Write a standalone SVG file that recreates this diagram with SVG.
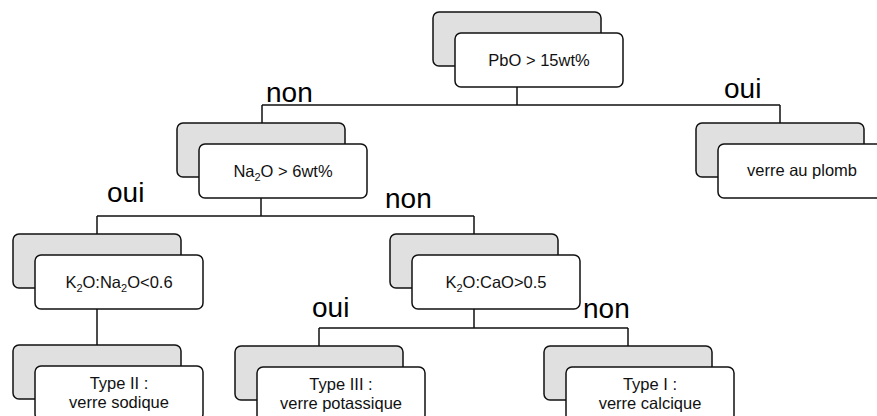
<svg xmlns="http://www.w3.org/2000/svg" width="877" height="416" viewBox="0 0 877 416">
<style>
.back{fill:#e0e0e0;stroke:#111;stroke-width:1.5}
.front{fill:#fff;stroke:#111;stroke-width:1.5}
.t{font-family:"Liberation Sans",Arial,sans-serif;font-size:16.5px;fill:#111;text-anchor:middle}
.s{font-size:11px}
.lbl{font-family:"Liberation Sans",Arial,sans-serif;font-size:28px;fill:#000}
.c{fill:none;stroke:#111;stroke-width:1.5}
</style>
<rect width="877" height="416" fill="#fff"/>
<g id="connectors">
<path class="c" d="M517 87V105M262 105H780M262 105V123M780 105V123"/>
<path class="c" d="M261 198V216M97 216H474M97 216V234M474 216V234"/>
<path class="c" d="M97 309V345"/>
<path class="c" d="M474 309V328M319 328H628M319 328V346M628 328V346"/>
</g>
<g id="n_pbo">
<rect class="back" x="433" y="12" width="168" height="54" rx="6"/>
<rect class="front" x="455" y="33" width="168" height="54" rx="6"/>
<text class="t" x="539" y="66">PbO &gt; 15wt%</text>
</g>
<g id="n_plomb">
<rect class="back" x="696" y="123" width="168" height="54" rx="6"/>
<rect class="front" x="718" y="144" width="168" height="54" rx="6"/>
<text class="t" x="802" y="176">verre au plomb</text>
</g>
<g id="n_na2o">
<rect class="back" x="177" y="123" width="168" height="54" rx="6"/>
<rect class="front" x="199" y="144" width="168" height="54" rx="6"/>
<text class="t" x="283" y="177">Na<tspan class="s" dy="4">2</tspan><tspan dy="-4">O &gt; 6wt%</tspan></text>
</g>
<g id="n_k2ona2o">
<rect class="back" x="13" y="234" width="168" height="54" rx="6"/>
<rect class="front" x="35" y="255" width="168" height="54" rx="6"/>
<text class="t" x="119" y="288">K<tspan class="s" dy="4">2</tspan><tspan dy="-4">O:Na</tspan><tspan class="s" dy="4">2</tspan><tspan dy="-4">O&lt;0.6</tspan></text>
</g>
<g id="n_k2ocao">
<rect class="back" x="390" y="234" width="168" height="54" rx="6"/>
<rect class="front" x="412" y="255" width="168" height="54" rx="6"/>
<text class="t" x="496" y="288">K<tspan class="s" dy="4">2</tspan><tspan dy="-4">O:CaO&gt;0.5</tspan></text>
</g>
<g id="n_type2">
<rect class="back" x="13" y="345" width="168" height="54" rx="6"/>
<rect class="front" x="35" y="366" width="168" height="54" rx="6"/>
<text class="t" x="119" y="389">Type II :</text>
<text class="t" x="119" y="408">verre sodique</text>
</g>
<g id="n_type3">
<rect class="back" x="235" y="346" width="168" height="54" rx="6"/>
<rect class="front" x="257" y="367" width="168" height="54" rx="6"/>
<text class="t" x="341" y="390">Type III :</text>
<text class="t" x="341" y="409">verre potassique</text>
</g>
<g id="n_type1">
<rect class="back" x="544" y="346" width="168" height="54" rx="6"/>
<rect class="front" x="566" y="367" width="168" height="54" rx="6"/>
<text class="t" x="650" y="390">Type I :</text>
<text class="t" x="650" y="409">verre calcique</text>
</g>
<g id="labels">
<text class="lbl" x="266" y="102">non</text>
<text class="lbl" x="724" y="98">oui</text>
<text class="lbl" x="107" y="202">oui</text>
<text class="lbl" x="385" y="208">non</text>
<text class="lbl" x="312" y="317">oui</text>
<text class="lbl" x="583" y="318">non</text>
</g>
</svg>
